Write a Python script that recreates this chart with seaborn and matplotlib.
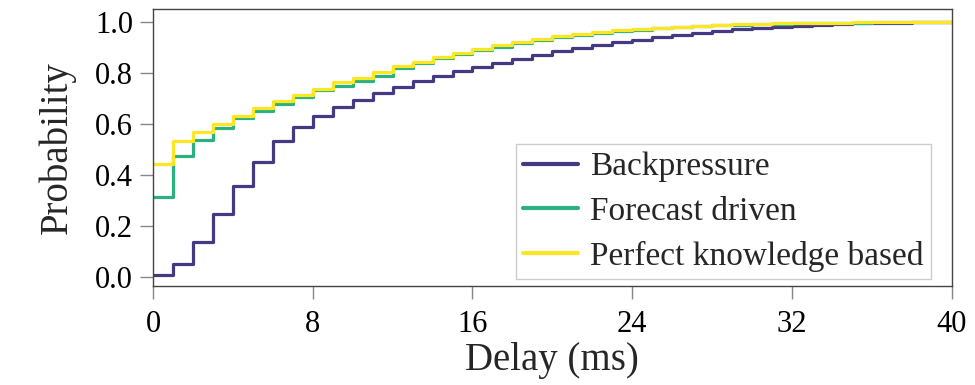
import matplotlib
matplotlib.use("Agg")
import matplotlib.pyplot as plt
import seaborn as sns
import pandas as pd

delay_ms = list(range(0, 41))

backpressure = [0.010, 0.052, 0.137, 0.247, 0.358, 0.453, 0.532, 0.587, 0.630, 0.665,
                0.695, 0.720, 0.745, 0.769, 0.787, 0.806, 0.822, 0.839, 0.855, 0.872,
                0.885, 0.898, 0.908, 0.920, 0.931, 0.941, 0.950, 0.958, 0.965, 0.971,
                0.977, 0.982, 0.986, 0.990, 0.993, 0.995, 0.997, 0.998, 0.999, 1.000,
                1.000]
forecast = [0.316, 0.473, 0.538, 0.584, 0.624, 0.652, 0.680, 0.706, 0.732, 0.750,
            0.767, 0.790, 0.818, 0.838, 0.858, 0.873, 0.889, 0.903, 0.917, 0.929,
            0.940, 0.949, 0.957, 0.963, 0.970, 0.975, 0.979, 0.983, 0.987, 0.990,
            0.992, 0.994, 0.995, 0.996, 0.997, 0.998, 0.999, 1.000, 1.000, 1.000,
            1.000]
perfect = [0.444, 0.532, 0.567, 0.601, 0.633, 0.663, 0.689, 0.715, 0.737, 0.763,
           0.780, 0.804, 0.826, 0.843, 0.863, 0.878, 0.894, 0.908, 0.922, 0.933,
           0.944, 0.953, 0.961, 0.967, 0.974, 0.978, 0.982, 0.986, 0.989, 0.991,
           0.993, 0.995, 0.996, 0.997, 0.998, 0.999, 1.000, 1.000, 1.000, 1.000,
           1.000]

series_names = ["Backpressure", "Forecast driven", "Perfect knowledge based"]
series_colors = ["#433a83", "#2bb07f", "#fde725"]
x_ticks = [0, 8, 16, 24, 32, 40]
y_ticks = [0.0, 0.2, 0.4, 0.6, 0.8, 1.0]

df = pd.concat([
    pd.DataFrame({"delay": delay_ms, "prob": vals, "method": name})
    for name, vals in zip(series_names, [backpressure, forecast, perfect])
])

sns.set_theme(style="ticks")
plt.rcParams["font.family"] = ["Liberation Serif", "DejaVu Serif"]

fig = plt.figure(figsize=(9.75, 3.85), dpi=100)
ax = fig.add_axes([0.157, 0.257, 0.819, 0.719])

sns.lineplot(data=df, x="delay", y="prob", hue="method", hue_order=series_names,
             palette=dict(zip(series_names, series_colors)), drawstyle="steps-post",
             linewidth=2.3, ax=ax)

ax.set_xlim(0, 40)
ax.set_ylim(-0.035, 1.05)
ax.set_xticks(x_ticks)
ax.set_xticklabels([str(t) for t in x_ticks])
ax.set_yticks(y_ticks)
ax.set_yticklabels([f"{t:.1f}" for t in y_ticks])
ax.tick_params(axis="both", labelsize=22, length=9.5, width=1, color="#888888",
               labelcolor="black")
ax.tick_params(axis="x", pad=8)
ax.tick_params(axis="y", pad=5)
ax.set_xlabel("Delay (ms)", fontsize=28, labelpad=2)
ax.set_ylabel("Probability", fontsize=28, labelpad=14)
for side in ["left", "right", "top", "bottom"]:
    ax.spines[side].set_visible(True)
    ax.spines[side].set_color("#444444")
    ax.spines[side].set_linewidth(1.0)

leg = ax.legend(loc="lower right", bbox_to_anchor=(0.974, 0.025), fontsize=24,
                frameon=True, fancybox=False, edgecolor="#cccccc", framealpha=1,
                handlelength=1.65, handletextpad=0.35, borderpad=0.22,
                labelspacing=0.42, borderaxespad=0)
leg.get_frame().set_linewidth(1.0)
for line in leg.get_lines():
    line.set_linewidth(3)

fig.savefig("out.png", dpi=100)
